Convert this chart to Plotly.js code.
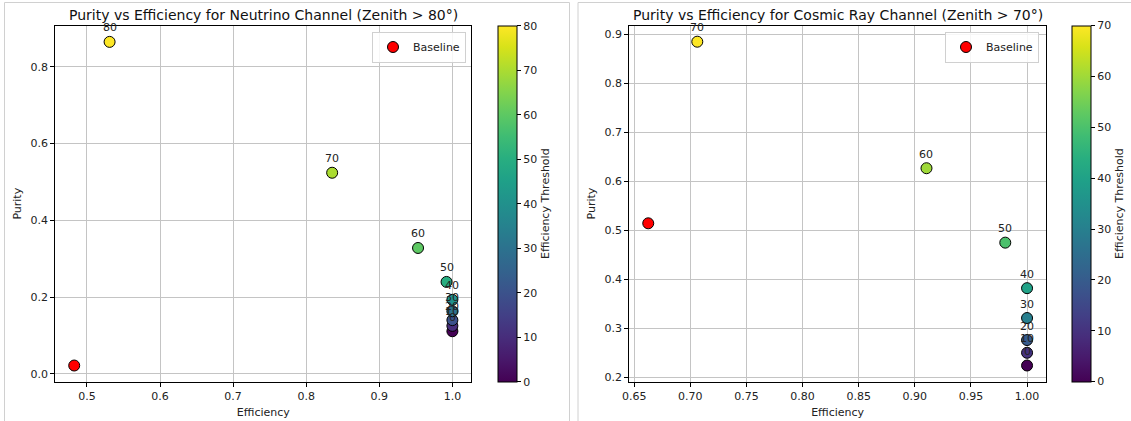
<!DOCTYPE html>
<html>
<head>
<meta charset="utf-8">
<script src="https://cdn.plot.ly/plotly-3.0.1.min.js"></script>
<style>html,body{margin:0;padding:0;background:#fff;}#chart{width:1131px;height:421px;}</style>
</head>
<body>
<div id="chart"></div>
<script>
// ---- Data ----
const neuThresholds = [0, 10, 20, 30, 40, 50, 60, 70, 80];
const neuEfficiency = [1.0, 1.0, 1.0, 1.0, 1.0, 0.992, 0.953, 0.8355, 0.531];
const neuPurity     = [0.111, 0.125, 0.140, 0.163, 0.193, 0.2395, 0.328, 0.524, 0.865];
const neuBaselineEff = [0.4826];
const neuBaselinePur = [0.0217];

const cosThresholds = [0, 10, 20, 30, 40, 50, 60, 70];
const cosEfficiency = [1.0, 1.0, 1.0, 1.0, 1.0, 0.9806, 0.9104, 0.7062];
const cosPurity     = [0.224, 0.250, 0.276, 0.321, 0.382, 0.475, 0.627, 0.8855];
const cosBaselineEff = [0.6625];
const cosBaselinePur = [0.5145];

const neuTitle = 'Purity vs Efficiency for Neutrino Channel (Zenith > 80°)';
const cosTitle = 'Purity vs Efficiency for Cosmic Ray Channel (Zenith > 70°)';

// ---- Layout helpers ----
const W = 1131, H = 421;
const px = v => v / W;
const py = v => 1 - v / H;
const FONT = 'DejaVu Sans, Liberation Sans, sans-serif';
const TXT = '#222';

function padRange(vals) {
  const lo = Math.min(...vals), hi = Math.max(...vals);
  const m = (hi - lo) * 0.05;
  return [lo - m, hi + m];
}

const neuXR = padRange(neuEfficiency.concat(neuBaselineEff));
const neuYR = padRange(neuPurity.concat(neuBaselinePur));
const cosXR = padRange(cosEfficiency.concat(cosBaselineEff));
const cosYR = padRange(cosPurity.concat(cosBaselinePur));

// pixel boxes of the two axes
const L = {x0: 55.3, x1: 471.3, y0: 25.7, y1: 381.7, cb: 497.5};
const R = {x0: 629.3, x1: 1046, y0: 25.5, y1: 381.7, cb: 1072};

function colorbar(box) {
  return {
    x: px(box.cb), xanchor: 'left', xpad: 0, ypad: 0,
    y: py((box.y0 + box.y1) / 2), yanchor: 'middle',
    thickness: 19, thicknessmode: 'pixels',
    len: box.y1 - box.y0, lenmode: 'pixels',
    outlinecolor: '#000', outlinewidth: 1,
    ticks: 'outside', ticklen: 4, tickcolor: '#000', tickwidth: 1,
    tick0: 0, dtick: 10,
    tickfont: {family: FONT, size: 11, color: TXT},
    title: {text: 'Efficiency Threshold', side: 'right', font: {family: FONT, size: 11, color: TXT}}
  };
}

const traces = [
  {
    type: 'scatter', mode: 'markers', x: neuEfficiency, y: neuPurity,
    xaxis: 'x', yaxis: 'y', showlegend: false, hoverinfo: 'skip',
    marker: {size: 11, color: neuThresholds, colorscale: 'Viridis', cmin: 0, cmax: Math.max(...neuThresholds),
      line: {color: '#000', width: 1}, colorbar: colorbar(L)}
  },
  {
    type: 'scatter', mode: 'markers', x: neuBaselineEff, y: neuBaselinePur, name: 'Baseline',
    xaxis: 'x', yaxis: 'y', legend: 'legend',
    marker: {size: 11, color: 'red', line: {color: '#000', width: 1}}
  },
  {
    type: 'scatter', mode: 'markers', x: cosEfficiency, y: cosPurity,
    xaxis: 'x2', yaxis: 'y2', showlegend: false, hoverinfo: 'skip',
    marker: {size: 11, color: cosThresholds, colorscale: 'Viridis', cmin: 0, cmax: Math.max(...cosThresholds),
      line: {color: '#000', width: 1}, colorbar: colorbar(R)}
  },
  {
    type: 'scatter', mode: 'markers', x: cosBaselineEff, y: cosBaselinePur, name: 'Baseline',
    xaxis: 'x2', yaxis: 'y2', legend: 'legend2',
    marker: {size: 11, color: 'red', line: {color: '#000', width: 1}}
  }
];

const annotations = [];
neuThresholds.forEach((t, i) => annotations.push({
  xref: 'x', yref: 'y', x: neuEfficiency[i], y: neuPurity[i], text: String(t),
  showarrow: false, xanchor: 'center', yanchor: 'middle', yshift: 14,
  font: {family: FONT, size: 11, color: TXT}
}));
cosThresholds.forEach((t, i) => annotations.push({
  xref: 'x2', yref: 'y2', x: cosEfficiency[i], y: cosPurity[i], text: String(t),
  showarrow: false, xanchor: 'center', yanchor: 'middle', yshift: 14,
  font: {family: FONT, size: 11, color: TXT}
}));
annotations.push({xref: 'paper', yref: 'paper', x: px((L.x0 + L.x1) / 2), y: py(14.5), text: neuTitle,
  showarrow: false, xanchor: 'center', yanchor: 'middle', font: {family: FONT, size: 14, color: '#111'}});
annotations.push({xref: 'paper', yref: 'paper', x: px((R.x0 + R.x1) / 2), y: py(14.5), text: cosTitle,
  showarrow: false, xanchor: 'center', yanchor: 'middle', font: {family: FONT, size: 14, color: '#111'}});

function axis(domain, range, dtick, fmt, title, extra) {
  return Object.assign({
    domain: domain, range: range, autorange: false, dtick: dtick, tick0: 0, tickformat: fmt,
    showgrid: true, gridcolor: '#c4c4c4', gridwidth: 1, zeroline: false,
    showline: true, linecolor: '#000', linewidth: 1, mirror: true,
    ticks: 'outside', ticklen: 4, tickcolor: '#000', tickwidth: 1,
    tickfont: {family: FONT, size: 11, color: TXT}, automargin: false,
    title: {text: title, font: {family: FONT, size: 11, color: TXT}, standoff: 6}
  }, extra || {});
}

const legendStyle = (xRight) => ({
  x: px(xRight), xanchor: 'right', y: py(31.5), yanchor: 'top',
  bgcolor: 'rgba(255,255,255,0.85)', bordercolor: '#d0d0d0', borderwidth: 1,
  font: {family: FONT, size: 11, color: TXT}, itemwidth: 30
});

const layout = {
  width: W, height: H, margin: {l: 0, r: 0, t: 0, b: 0},
  paper_bgcolor: '#fff', plot_bgcolor: '#fff',
  font: {family: FONT, size: 11, color: TXT},
  xaxis: axis([px(L.x0), px(L.x1)], neuXR, 0.1, '.1f', 'Efficiency', {anchor: 'y'}),
  yaxis: axis([py(L.y1), py(L.y0)], neuYR, 0.2, '.1f', 'Purity', {anchor: 'x'}),
  xaxis2: axis([px(R.x0), px(R.x1)], cosXR, 0.05, '.2f', 'Efficiency', {anchor: 'y2'}),
  yaxis2: axis([py(R.y1), py(R.y0)], cosYR, 0.1, '.1f', 'Purity', {anchor: 'x2'}),
  legend: legendStyle(466),
  legend2: legendStyle(1039),
  annotations: annotations,
  shapes: [
    {type: 'rect', xref: 'paper', yref: 'paper', x0: px(4.5), x1: px(569.5), y0: -0.2, y1: py(2.5),
      line: {color: '#d0d0d0', width: 1}, layer: 'below'},
    {type: 'rect', xref: 'paper', yref: 'paper', x0: px(578), x1: 1.2, y0: -0.2, y1: py(2.5),
      line: {color: '#d0d0d0', width: 1}, layer: 'below'}
  ],
  showlegend: true
};

Plotly.newPlot('chart', traces, layout, {displayModeBar: false, staticPlot: true});
</script>
</body>
</html>
